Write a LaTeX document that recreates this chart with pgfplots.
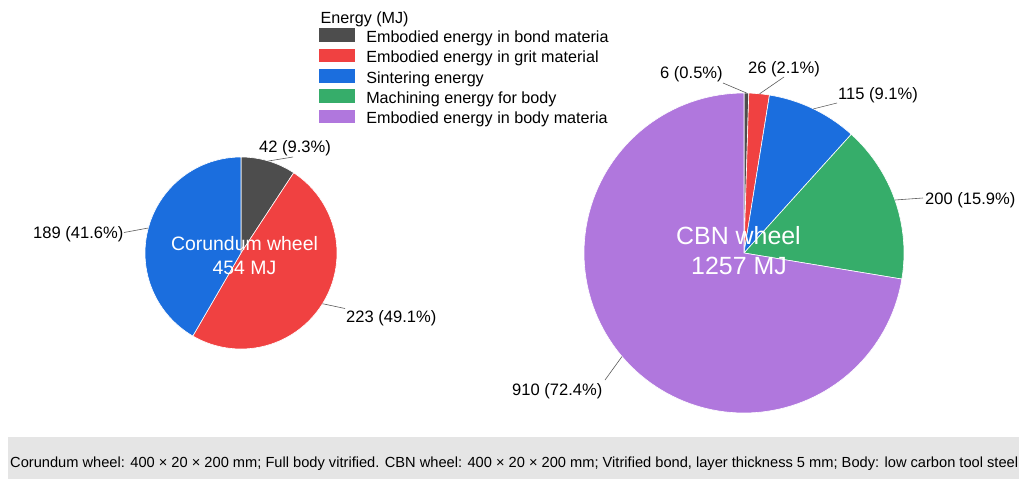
\documentclass[border=0pt]{standalone}
\usepackage{pgfplots}
\pgfplotsset{compat=1.18}
\usepackage{fontspec}
\setmainfont{Liberation Sans}
\definecolor{cGray}{HTML}{4D4D4D}
\definecolor{cRed}{HTML}{F04141}
\definecolor{cBlue}{HTML}{1B6EDE}
\definecolor{cGreen}{HTML}{36AD6A}
\definecolor{cPurple}{HTML}{B077DD}
\definecolor{cBox}{HTML}{E5E5E5}
\definecolor{cLine}{HTML}{5A5A5A}
% data (MJ)
\def\La{42}\def\Lb{223}\def\Lc{189}
\def\Ra{6}\def\Rb{26}\def\Rc{115}\def\Rd{200}\def\Re{910}
\pgfmathsetmacro\Ltot{\La+\Lb+\Lc}
\pgfmathsetmacro\LA{360*(\La/\Ltot)}
\pgfmathsetmacro\LB{360*((\La+\Lb)/\Ltot)}
\pgfmathsetmacro\Rtot{\Ra+\Rb+\Rc+\Rd+\Re}
\pgfmathsetmacro\RA{360*(\Ra/\Rtot)}
\pgfmathsetmacro\RB{360*((\Ra+\Rb)/\Rtot)}
\pgfmathsetmacro\RC{360*((\Ra+\Rb+\Rc)/\Rtot)}
\pgfmathsetmacro\RD{360*((\Ra+\Rb+\Rc+\Rd)/\Rtot)}
\begin{document}
\begin{tikzpicture}
\useasboundingbox (0,0) rectangle (1019bp,479bp);
\begin{axis}[at={(0,0)}, anchor=south west,
  width=1019bp, height=479bp, scale only axis,
  xmin=0, xmax=1019, ymin=0, ymax=479, y dir=reverse,
  hide axis, clip=false,
  legend image code/.code={\fill[#1,draw=none] (0bp,0.6bp) rectangle (36bp,14.2bp); \path (47bp,0bp);},
  legend style={at={(axis cs:319,28.2)}, anchor=north west, draw=none, fill=none,
    inner sep=0pt, outer sep=0pt, row sep=0pt, column sep=0pt,
    font=\fontsize{16.2}{19}\selectfont,
    cells={anchor=base west},
    nodes={inner sep=0pt, text height=14.5bp, text depth=5.8bp}},
  wedge/.style={draw=white, line width=0.6bp, variable=x}]
% caption box
\fill[cBox] (axis cs:8,437) rectangle (axis cs:1019,479);
% left pie: Corundum wheel
\addplot[wedge, fill=cGray, domain=0:\LA, samples=15, forget plot] ({241+96*sin(x)},{253-96*cos(x)}) -- (axis cs:241,253) -- cycle;
\addplot[wedge, fill=cRed, domain=\LA:\LB, samples=60, forget plot] ({241+96*sin(x)},{253-96*cos(x)}) -- (axis cs:241,253) -- cycle;
\addplot[wedge, fill=cBlue, domain=\LB:360, samples=50, forget plot] ({241+96*sin(x)},{253-96*cos(x)}) -- (axis cs:241,253) -- cycle;
% right pie: CBN wheel
\addplot[wedge, fill=cGray, domain=0:\RA, samples=3] ({744+160*sin(x)},{253-160*cos(x)}) -- (axis cs:744,253) -- cycle;
\addlegendentry{Embodied energy in bond materia}
\addplot[wedge, fill=cRed, domain=\RA:\RB, samples=6] ({744+160*sin(x)},{253-160*cos(x)}) -- (axis cs:744,253) -- cycle;
\addlegendentry{Embodied energy in grit material}
\addplot[wedge, fill=cBlue, domain=\RB:\RC, samples=20] ({744+160*sin(x)},{253-160*cos(x)}) -- (axis cs:744,253) -- cycle;
\addlegendentry{Sintering energy}
\addplot[wedge, fill=cGreen, domain=\RC:\RD, samples=30] ({744+160*sin(x)},{253-160*cos(x)}) -- (axis cs:744,253) -- cycle;
\addlegendentry{Machining energy for body}
\addplot[wedge, fill=cPurple, domain=\RD:360, samples=120] ({744+160*sin(x)},{253-160*cos(x)}) -- (axis cs:744,253) -- cycle;
\addlegendentry{Embodied energy in body materia}
% legend title
\node[anchor=base west, inner sep=0pt, font=\fontsize{16.2}{19}\selectfont] at (axis cs:320.5,23.3) {Energy (MJ)};
% leader lines
\begin{scope}[cLine, line width=0.6bp]
\draw (axis cs:268.5,161) -- (axis cs:293,157);
\draw (axis cs:322.5,303.7) -- (axis cs:345,308.5);
\draw (axis cs:148.3,228) -- (axis cs:124,232.5);
\draw (axis cs:746.5,93) -- (axis cs:723,83);
\draw (axis cs:759.6,93.8) -- (axis cs:784,77);
\draw (axis cs:813.4,108.9) -- (axis cs:837,103);
\draw (axis cs:895,200) -- (axis cs:923,198);
\draw (axis cs:622,356.5) -- (axis cs:605,380);
\end{scope}
% slice labels
\begin{scope}[every node/.style={anchor=base west, inner sep=0pt, font=\fontsize{16.6}{19}\selectfont}]
\node at (axis cs:259,152.7) {42 (9.3\%)};
\node at (axis cs:346,322.7) {223 (49.1\%)};
\node at (axis cs:33,238.3) {189 (41.6\%)};
\node at (axis cs:660,78.3) {6 (0.5\%)};
\node at (axis cs:748,74) {26 (2.1\%)};
\node at (axis cs:838,99.3) {115 (9.1\%)};
\node at (axis cs:925,204) {200 (15.9\%)};
\node at (axis cs:512,395) {910 (72.4\%)};
\end{scope}
% centre labels
\node[anchor=base, inner sep=0pt, text=white, font=\fontsize{19.5}{22}\selectfont] at (axis cs:244.5,250.7) {Corundum wheel};
\node[anchor=base, inner sep=0pt, text=white, font=\fontsize{19.5}{22}\selectfont] at (axis cs:244.5,274.3) {454 MJ};
\node[anchor=base, inner sep=0pt, text=white, font=\fontsize{25}{28}\selectfont] at (axis cs:738.5,244.3) {CBN wheel};
\node[anchor=base, inner sep=0pt, text=white, font=\fontsize{25}{28}\selectfont] at (axis cs:739,274.3) {1257 MJ};
% caption
\node[anchor=base west, inner sep=0pt, font=\fontsize{14.7}{17}\selectfont] at (axis cs:10,467.5) {Corundum wheel: 400 × 20 × 200 mm; Full body vitrified. CBN wheel: 400 × 20 × 200 mm; Vitrified bond, layer thickness 5 mm; Body: low carbon tool steel};
\end{axis}
\end{tikzpicture}
\end{document}
